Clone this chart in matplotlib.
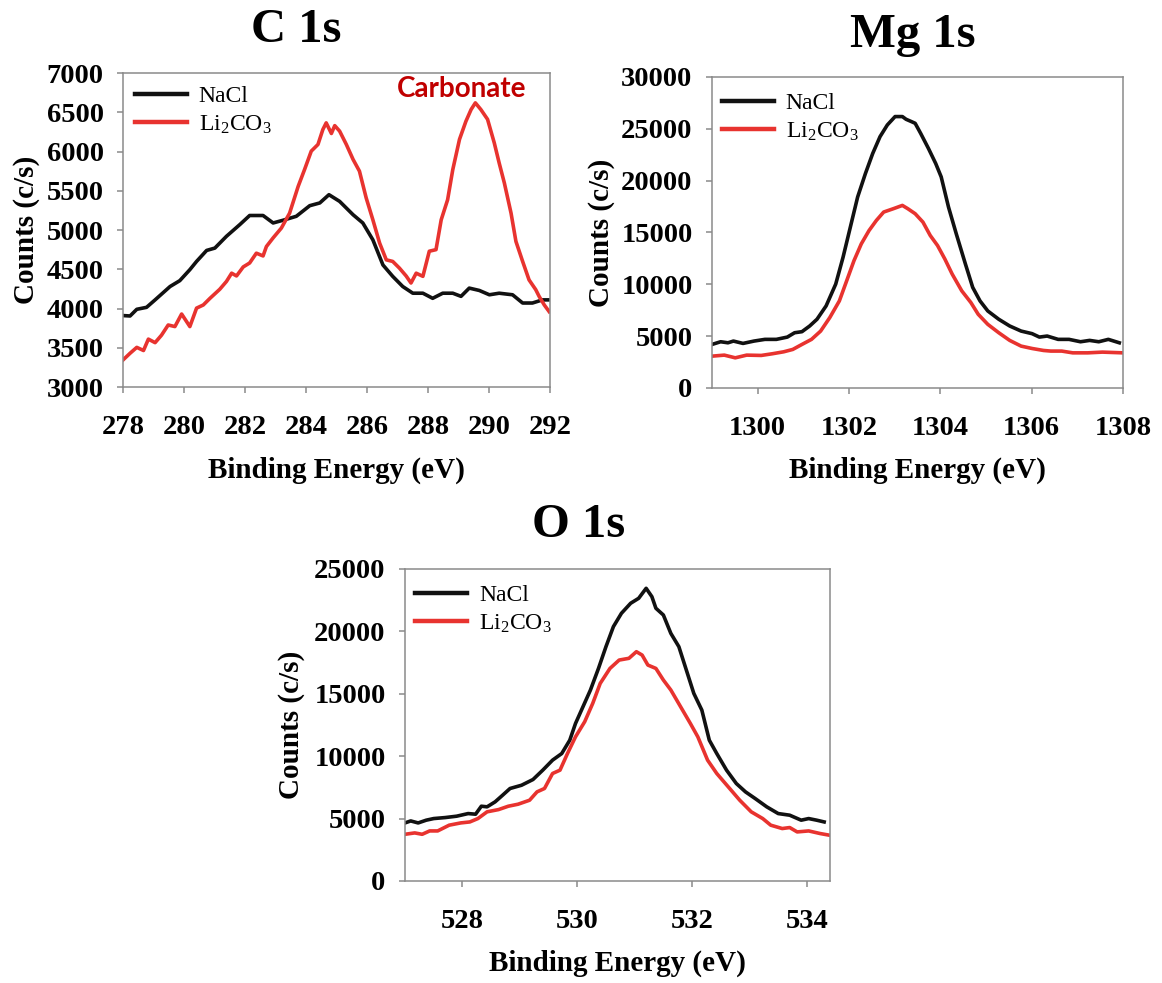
import matplotlib
matplotlib.use("Agg")
import matplotlib.pyplot as plt

plt.rcParams["font.family"] = ["Liberation Serif", "DejaVu Serif"]
plt.rcParams["mathtext.fontset"] = "custom"
plt.rcParams["mathtext.rm"] = "Liberation Serif"
plt.rcParams["mathtext.it"] = "Liberation Serif:italic"
plt.rcParams["mathtext.bf"] = "Liberation Serif:bold"

# ---------------- C 1s ----------------
c1s_e_nacl = [278.0, 278.23, 278.45, 278.77, 279.05, 279.54, 279.86, 280.19, 280.41, 280.74,
              281.01, 281.39, 281.83, 282.15, 282.59, 282.92, 283.25, 283.68, 284.12, 284.45,
              284.75, 285.10, 285.54, 285.86, 286.19, 286.52, 286.84, 287.17, 287.50, 287.83,
              288.15, 288.48, 288.81, 289.08, 289.35, 289.68, 290.01, 290.33, 290.77, 291.10,
              291.42, 291.75, 292.0]
c1s_nacl = [3910, 3905, 3990, 4015, 4110, 4280, 4355, 4495, 4600, 4740,
            4770, 4920, 5070, 5185, 5185, 5090, 5125, 5175, 5310, 5345,
            5450, 5365, 5195, 5090, 4875, 4555, 4410, 4280, 4195, 4195,
            4130, 4195, 4195, 4155, 4260, 4230, 4175, 4195, 4175, 4070,
            4070, 4110, 4110]

c1s_e_li = [278.0, 278.23, 278.45, 278.67, 278.83, 279.05, 279.26, 279.48, 279.70, 279.92,
            280.19, 280.41, 280.63, 280.85, 281.17, 281.39, 281.56, 281.72, 281.94, 282.15,
            282.37, 282.59, 282.70, 282.92, 283.19, 283.46, 283.74, 283.95, 284.17, 284.39,
            284.55, 284.66, 284.83, 284.94, 285.10, 285.32, 285.54, 285.75, 285.97, 286.19,
            286.41, 286.63, 286.84, 287.06, 287.28, 287.44, 287.61, 287.83, 288.04, 288.26,
            288.43, 288.64, 288.81, 289.03, 289.24, 289.41, 289.55, 289.73, 289.95, 290.17,
            290.33, 290.50, 290.72, 290.88, 291.10, 291.31, 291.53, 291.64, 291.81, 291.97]
c1s_li = [3345, 3430, 3505, 3465, 3610, 3565, 3660, 3790, 3770, 3930,
          3770, 4005, 4045, 4130, 4245, 4345, 4450, 4415, 4530, 4580,
          4705, 4670, 4790, 4900, 5025, 5215, 5555, 5770, 6005, 6090,
          6280, 6365, 6230, 6330, 6260, 6090, 5900, 5750, 5410, 5130,
          4835, 4620, 4600, 4515, 4415, 4325, 4450, 4410, 4730, 4750,
          5130, 5385, 5770, 6155, 6385, 6535, 6620, 6535, 6410, 6110,
          5855, 5600, 5215, 4855, 4600, 4365, 4240, 4155, 4045, 3960]

# ---------------- Mg 1s ----------------
mg_e_nacl = [1299.0, 1299.19, 1299.35, 1299.47, 1299.68, 1299.92, 1300.16, 1300.41, 1300.65, 1300.81,
             1300.97, 1301.14, 1301.30, 1301.50, 1301.71, 1301.87, 1302.03, 1302.19, 1302.36, 1302.52,
             1302.68, 1302.84, 1303.01, 1303.17, 1303.25, 1303.37, 1303.45, 1303.57, 1303.74, 1303.90,
             1304.02, 1304.18, 1304.35, 1304.55, 1304.71, 1304.87, 1305.04, 1305.28, 1305.52, 1305.77,
             1306.01, 1306.17, 1306.34, 1306.58, 1306.82, 1307.07, 1307.27, 1307.47, 1307.68, 1307.92]
mg_nacl = [4200, 4460, 4360, 4525, 4300, 4525, 4690, 4690, 4910, 5330,
           5430, 5980, 6630, 7920, 10020, 12600, 15510, 18420, 20680, 22620,
           24240, 25370, 26180, 26180, 25920, 25690, 25530, 24560, 23110, 21650,
           20360, 17450, 14870, 11960, 9700, 8400, 7430, 6630, 5980, 5490,
           5240, 4910, 5010, 4690, 4690, 4460, 4590, 4460, 4690, 4360]

mg_e_li = [1299.0, 1299.27, 1299.51, 1299.76, 1300.08, 1300.32, 1300.57, 1300.77, 1300.97, 1301.18,
           1301.38, 1301.58, 1301.79, 1301.95, 1302.11, 1302.27, 1302.44, 1302.60, 1302.76, 1302.97,
           1303.17, 1303.29, 1303.45, 1303.62, 1303.78, 1303.94, 1304.10, 1304.26, 1304.47, 1304.67,
           1304.83, 1305.04, 1305.28, 1305.52, 1305.77, 1306.01, 1306.26, 1306.42, 1306.66, 1306.90,
           1307.23, 1307.55, 1308.0]
mg_li = [3070, 3170, 2910, 3170, 3140, 3300, 3490, 3720, 4200, 4690,
         5490, 6790, 8400, 10340, 12280, 13900, 15190, 16160, 16970, 17290,
         17610, 17290, 16810, 16000, 14710, 13740, 12440, 10990, 9370, 8240,
         7110, 6140, 5330, 4590, 4040, 3810, 3620, 3560, 3560, 3390,
         3390, 3460, 3390]

# ---------------- O 1s ----------------
o_e_nacl = [527.0, 527.1, 527.23, 527.37, 527.5, 527.7, 527.9, 528.1, 528.23, 528.33,
            528.43, 528.57, 528.7, 528.83, 529.03, 529.23, 529.4, 529.57, 529.73, 529.87,
            529.97, 530.1, 530.23, 530.37, 530.5, 530.63, 530.77, 530.93, 531.07, 531.2,
            531.3, 531.37, 531.5, 531.63, 531.77, 531.9, 532.03, 532.17, 532.3, 532.43,
            532.6, 532.77, 532.93, 533.1, 533.3, 533.5, 533.7, 533.9, 534.03, 534.17,
            534.3]
o_nacl = [4650, 4810, 4650, 4870, 5000, 5080, 5190, 5400, 5350, 5990,
          5940, 6340, 6870, 7410, 7670, 8130, 8880, 9680, 10210, 11280,
          12620, 13960, 15300, 17030, 18770, 20380, 21450, 22250, 22650, 23450,
          22780, 21850, 21310, 19840, 18770, 16900, 15030, 13690, 11280, 10210,
          8880, 7810, 7140, 6600, 5940, 5400, 5270, 4870, 5000, 4870,
          4730]

o_e_li = [527.0, 527.17, 527.3, 527.43, 527.57, 527.77, 527.97, 528.13, 528.27, 528.43,
          528.63, 528.8, 528.97, 529.17, 529.3, 529.43, 529.57, 529.7, 529.83, 529.97,
          530.13, 530.27, 530.4, 530.57, 530.73, 530.9, 531.03, 531.13, 531.23, 531.37,
          531.5, 531.63, 531.8, 531.97, 532.1, 532.27, 532.43, 532.63, 532.83, 533.03,
          533.23, 533.37, 533.57, 533.7, 533.83, 534.03, 534.23, 534.4]
o_li = [3740, 3850, 3740, 4010, 4010, 4470, 4650, 4730, 5000, 5540,
        5720, 5990, 6150, 6470, 7140, 7410, 8610, 8880, 10210, 11550,
        12760, 14230, 15830, 17030, 17700, 17840, 18370, 18100, 17300, 17030,
        16100, 15300, 13960, 12620, 11550, 9680, 8610, 7540, 6470, 5540,
        5000, 4470, 4200, 4280, 3930, 4010, 3800, 3660]

series_labels = ["NaCl", "Li$_2$CO$_3$"]
BLACK = "#111111"
RED = "#e8332f"
SPINE = "#8a8a8a"

fig = plt.figure(figsize=(11.62, 9.83), dpi=100)
fig.patch.set_facecolor("white")


def panel(rect, e1, y1, e2, y2, xlim, xticks, ylim, yticks, ylab_x, leg_anchor):
    ax = fig.add_axes(rect)
    ax.plot(e1, y1, color=BLACK, lw=2.6, label=series_labels[0], solid_joinstyle="round")
    ax.plot(e2, y2, color=RED, lw=2.6, label=series_labels[1], solid_joinstyle="round")
    ax.set_xlim(*xlim)
    ax.set_ylim(*ylim)
    ax.set_xticks(xticks)
    ax.set_yticks(yticks)
    for s in ax.spines.values():
        s.set_color(SPINE)
        s.set_linewidth(1.1)
    ax.tick_params(axis="both", direction="out", length=4, width=1.1, color=SPINE,
                   labelsize=20.5)
    ax.tick_params(axis="x", pad=16)
    ax.tick_params(axis="y", pad=10)
    for lab in ax.get_xticklabels() + ax.get_yticklabels():
        lab.set_fontweight("bold")
    ax.set_xlabel("Binding Energy (eV)", fontsize=21, fontweight="bold", va="center")
    ax.xaxis.set_label_coords(0.5, -0.265)
    ax.set_ylabel("Counts (c/s)", fontsize=21, fontweight="bold", va="center")
    ax.yaxis.set_label_coords(ylab_x, 0.5)
    leg = ax.legend(loc="upper left", bbox_to_anchor=leg_anchor, frameon=False,
                    fontsize=17, handlelength=2.2, handletextpad=0.5,
                    labelspacing=0.28, borderpad=0, borderaxespad=0)
    for line in leg.get_lines():
        line.set_linewidth(3.2)
    return ax


ax_c = panel([0.1059, 0.6063, 0.3675, 0.3194], c1s_e_nacl, c1s_nacl, c1s_e_li, c1s_li,
             (278, 292), range(278, 293, 2), (3000, 7000), range(3000, 7001, 500),
             -0.227, (0.028, 0.96))
ax_c.text(0.793, 0.924, "Carbonate", transform=ax_c.transAxes, ha="center",
          va="baseline", fontsize=20, fontweight="bold", family="Lato", color="#c00000")

ax_m = panel([0.6127, 0.6053, 0.3537, 0.3164], mg_e_nacl, mg_nacl, mg_e_li, mg_li,
             (1299, 1308), range(1300, 1309, 2), (0, 30000), range(0, 30001, 5000),
             -0.268, (0.024, 0.95))

ax_o = panel([0.3485, 0.1038, 0.3657, 0.3174], o_e_nacl, o_nacl, o_e_li, o_li,
             (527, 534.4), range(528, 535, 2), (0, 25000), range(0, 25001, 5000),
             -0.268, (0.024, 0.951))

# Panel titles
fig.text(296 / 1162, 1 - 42 / 983, "C 1s", ha="center", va="baseline",
         fontsize=35, fontweight="bold")
fig.text(913 / 1162, 1 - 47 / 983, "Mg 1s", ha="center", va="baseline",
         fontsize=35, fontweight="bold")
fig.text(579 / 1162, 1 - 537 / 983, "O 1s", ha="center", va="baseline",
         fontsize=35, fontweight="bold")

fig.savefig("out.png", dpi=100, facecolor="white")
